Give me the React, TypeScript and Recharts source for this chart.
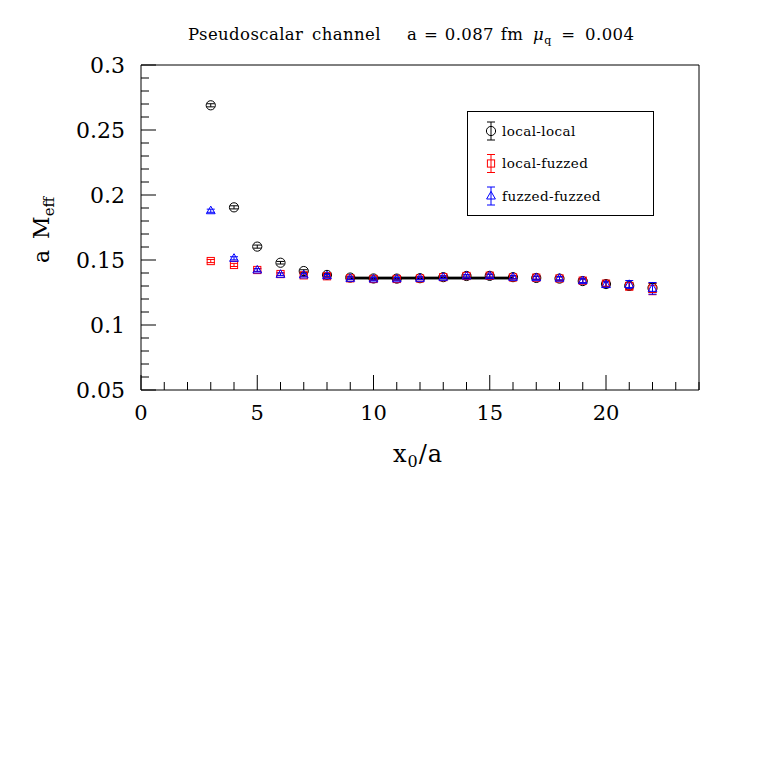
import { ScatterChart, Scatter, XAxis, YAxis, ErrorBar, ReferenceLine, Legend } from "recharts"

// time slices
const x0 = [3, 4, 5, 6, 7, 8, 9, 10, 11, 12, 13, 14, 15, 16, 17, 18, 19, 20, 21, 22]

// a M_eff, per smearing combination
const localLocal = [0.269, 0.1905, 0.1603, 0.1479, 0.1415, 0.1385, 0.1365, 0.1358, 0.1357, 0.136, 0.1368, 0.1377, 0.1378, 0.1368, 0.1362, 0.1357, 0.1338, 0.1315, 0.1302, 0.1285]
const localLocalErr = [0.0012, 0.0012, 0.0012, 0.001, 0.001, 0.001, 0.001, 0.001, 0.001, 0.001, 0.001, 0.001, 0.0012, 0.0012, 0.0012, 0.0013, 0.0015, 0.0018, 0.0025, 0.0035]
const localFuzzed = [0.1492, 0.1462, 0.1423, 0.1392, 0.1382, 0.1375, 0.1359, 0.1354, 0.1354, 0.1358, 0.1368, 0.1377, 0.1379, 0.1366, 0.1364, 0.1358, 0.1341, 0.1318, 0.1298, 0.1278]
const localFuzzedErr = [0.0012, 0.0012, 0.0012, 0.001, 0.001, 0.001, 0.001, 0.001, 0.001, 0.001, 0.001, 0.001, 0.0012, 0.0012, 0.0012, 0.0013, 0.0015, 0.002, 0.003, 0.0045]
const fuzzedFuzzed = [0.1879, 0.1513, 0.1423, 0.139, 0.1385, 0.1379, 0.1359, 0.1354, 0.1355, 0.1359, 0.1367, 0.1377, 0.1379, 0.1367, 0.1364, 0.136, 0.1341, 0.1311, 0.1312, 0.1282]
const fuzzedFuzzedErr = [0.0012, 0.0012, 0.001, 0.001, 0.001, 0.001, 0.001, 0.001, 0.001, 0.001, 0.001, 0.001, 0.0012, 0.0012, 0.0012, 0.0013, 0.0015, 0.002, 0.003, 0.0045]

// plateau fit
const fitFrom = 9
const fitTo = 16
const fitValue = 0.1361
const fitErr = 0.0006

const xTicks = [0, 1, 2, 3, 4, 5, 6, 7, 8, 9, 10, 11, 12, 13, 14, 15, 16, 17, 18, 19, 20, 21, 22, 23, 24]
const yTicks = [0.05, 0.06, 0.07, 0.08, 0.09, 0.1, 0.11, 0.12, 0.13, 0.14, 0.15, 0.16, 0.17, 0.18, 0.19, 0.2, 0.21, 0.22, 0.23, 0.24, 0.25, 0.26, 0.27, 0.28, 0.29, 0.3]

const W = 763
const H = 763
const MAJOR = 15
const MINOR = 8
const tickFont = "'DejaVu Serif', serif"

const series = [
  { name: "local-local", color: "#000000", shape: "circle", y: localLocal, err: localLocalErr },
  { name: "local-fuzzed", color: "#ff0000", shape: "square", y: localFuzzed, err: localFuzzedErr },
  { name: "fuzzed-fuzzed", color: "#0000ff", shape: "triangle", y: fuzzedFuzzed, err: fuzzedFuzzedErr },
]

const isMajorX = (v: number) => v % 5 === 0
const isMajorY = (v: number) => Math.round(v * 100) % 5 === 0
const fmtY = (v: number) => String(Math.round(v * 100) / 100)

function Marker({ shape, cx, cy, color }: { shape: string; cx: number; cy: number; color: string }) {
  if (shape === "circle") return <circle cx={cx} cy={cy} r={4.6} fill="none" stroke={color} strokeWidth={1} />
  if (shape === "square") return <rect x={cx - 3.6} y={cy - 3.6} width={7.2} height={7.2} fill="none" stroke={color} strokeWidth={1} />
  return <polygon points={`${cx},${cy - 4.6} ${cx + 4.4},${cy + 3} ${cx - 4.4},${cy + 3}`} fill="none" stroke={color} strokeWidth={1} />
}

function BottomTick({ x, y, payload }: any) {
  const v = payload.value
  const len = isMajorX(v) ? MAJOR : MINOR
  return (
    <g>
      <line x1={x} x2={x} y1={y} y2={y - len} stroke="#000" />
      {isMajorX(v) && (
        <text x={x} y={y + 30} textAnchor="middle" fontFamily={tickFont} fontSize={21} fill="#000">{v}</text>
      )}
    </g>
  )
}

function TopTick({ x, y, payload }: any) {
  const len = isMajorX(payload.value) ? MAJOR : MINOR
  return <line x1={x} x2={x} y1={y} y2={y + len} stroke="#000" />
}

function LeftTick({ x, y, payload }: any) {
  const v = payload.value
  const len = isMajorY(v) ? MAJOR : MINOR
  return (
    <g>
      <line x1={x} x2={x + len} y1={y} y2={y} stroke="#000" />
      {isMajorY(v) && (
        <text x={x - 16} y={y + 8} textAnchor="end" fontFamily={tickFont} fontSize={22} fill="#000">{fmtY(v)}</text>
      )}
    </g>
  )
}

function RightTick({ x, y, payload }: any) {
  const len = isMajorY(payload.value) ? MAJOR : MINOR
  return <line x1={x} x2={x - len} y1={y} y2={y} stroke="#000" />
}

function LegendBox() {
  return (
    <svg width={187} height={105} style={{ display: "block" }}>
      <rect x={0.5} y={0.5} width={186} height={104} fill="#fff" stroke="#000" />
      {series.map((s, i) => {
        const cy = 20 + i * 32.5
        return (
          <g key={s.name}>
            <line x1={24} x2={24} y1={cy - 9} y2={cy + 9} stroke={s.color} />
            <line x1={20} x2={28} y1={cy - 9} y2={cy - 9} stroke={s.color} />
            <line x1={20} x2={28} y1={cy + 9} y2={cy + 9} stroke={s.color} />
            <Marker shape={s.shape} cx={24} cy={cy} color={s.color} />
            <text x={35} y={cy + 4.5} fontFamily={tickFont} fontSize={13.5} letterSpacing={0.4} fill="#000">{s.name}</text>
          </g>
        )
      })}
    </svg>
  )
}

export default function App() {
  return (
    <div style={{ position: "absolute", left: 0, top: 0, width: W, height: H, background: "#fff" }}>
      <ScatterChart width={W} height={H} margin={{ top: 64, right: 63, bottom: 372, left: 140 }}>
        <XAxis type="number" dataKey="x" domain={[0, 24]} ticks={xTicks} interval={0} height={1}
          tickSize={0} tickMargin={0} tickLine={false} axisLine={{ stroke: "#000" }} tick={<BottomTick />} allowDataOverflow />
        <XAxis xAxisId="top" orientation="top" type="number" domain={[0, 24]} ticks={xTicks} interval={0} height={1}
          tickSize={0} tickMargin={0} tickLine={false} axisLine={{ stroke: "#000" }} tick={<TopTick />} />
        <YAxis type="number" dataKey="y" domain={[0.05, 0.3]} ticks={yTicks} interval={0} width={1}
          tickSize={0} tickMargin={0} tickLine={false} axisLine={{ stroke: "#000" }} tick={<LeftTick />} allowDataOverflow />
        <YAxis yAxisId="right" orientation="right" type="number" domain={[0.05, 0.3]} ticks={yTicks} interval={0} width={1}
          tickSize={0} tickMargin={0} tickLine={false} axisLine={{ stroke: "#000" }} tick={<RightTick />} />

        <ReferenceLine segment={[{ x: fitFrom, y: fitValue + fitErr }, { x: fitTo, y: fitValue + fitErr }]} stroke="#777" strokeWidth={1.2} />
        <ReferenceLine segment={[{ x: fitFrom, y: fitValue - fitErr }, { x: fitTo, y: fitValue - fitErr }]} stroke="#777" strokeWidth={1.2} />
        <ReferenceLine segment={[{ x: fitFrom, y: fitValue }, { x: fitTo, y: fitValue }]} stroke="#000" strokeWidth={2.4} />

        {series.map((s) => (
          <Scatter key={s.name} name={s.name} fill={s.color}
            data={x0.map((x, i) => ({ x, y: s.y[i], err: s.err[i] }))}
            isAnimationActive={false}
            shape={(p: any) => <Marker shape={s.shape} cx={p.cx} cy={p.cy} color={s.color} />}>
            <ErrorBar dataKey="err" direction="y" width={4} stroke={s.color} strokeWidth={1} isAnimationActive={false} />
          </Scatter>
        ))}

        <Legend layout="horizontal" verticalAlign="middle" align="center" content={<LegendBox />}
          wrapperStyle={{ left: 467, top: 111, width: 187, height: 105 }} />
      </ScatterChart>

      <svg width={W} height={H} style={{ position: "absolute", left: 0, top: 0, pointerEvents: "none" }}>
        <text y={40} fontFamily={tickFont} fontSize={16.5} letterSpacing={0.4} fill="#000">
          <tspan x={188} wordSpacing={3}>Pseudoscalar channel</tspan>
          <tspan x={407} wordSpacing={1}>a = 0.087 fm</tspan>
        </text>
        <text y={40} fontFamily={tickFont} fontSize={16.5} letterSpacing={0.4} wordSpacing={4} fill="#000">
          <tspan x={533} fontStyle="italic">μ</tspan>
          <tspan fontSize={11} dy={4}>q</tspan>
          <tspan dy={-4}> = 0.004</tspan>
        </text>
        <text x={393} y={462} fontFamily={tickFont} fontSize={24} letterSpacing={1} fill="#000">
          x<tspan fontSize={16} dy={5}>0</tspan><tspan dy={-5}>/a</tspan>
        </text>
        <text transform="translate(49 263) rotate(-90)" fontFamily={tickFont} fontSize={22} wordSpacing={4} fill="#000">
          a M<tspan fontSize={15} dy={5}>eff</tspan>
        </text>
      </svg>
    </div>
  )
}
